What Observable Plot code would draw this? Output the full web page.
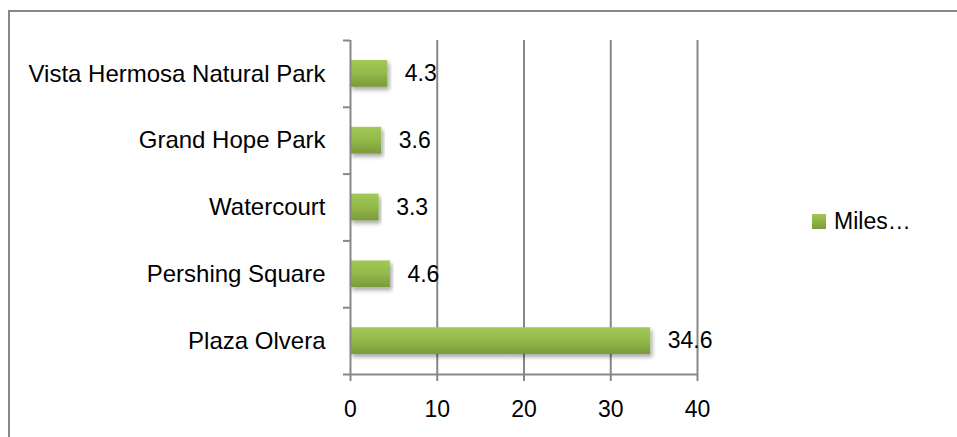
<!DOCTYPE html>
<html><head><meta charset="utf-8">
<script src="https://cdn.jsdelivr.net/npm/d3@7"></script>
<script src="https://cdn.jsdelivr.net/npm/@observablehq/plot@0.6"></script>
<style>
body{margin:0;background:#fff;}
#wrap{position:relative;width:957px;height:437px;overflow:hidden;font-family:"Liberation Sans",Arial,sans-serif;color:#000;}
#frame{position:absolute;left:8px;top:10px;width:1000px;height:500px;border-left:2px solid #878787;border-top:2px solid #878787;pointer-events:none;}
#chart{position:absolute;left:0;top:0;}
#legend{position:absolute;left:812px;top:207px;height:28px;font-size:23px;display:flex;align-items:center;gap:8px;}
#legend .sw{display:inline-block;width:14px;height:15px;background:linear-gradient(#a0c853,#7d9c3b);}
</style></head><body>
<div id="wrap"><div id="chart"></div><div id="frame"></div><div id="legend"><span class="sw"></span><span>Miles…</span></div></div>
<script>
const categories = ["Vista Hermosa Natural Park", "Grand Hope Park", "Watercourt", "Pershing Square", "Plaza Olvera"];
const miles = [4.3, 3.6, 3.3, 4.6, 34.6];
const xTicks = [0, 10, 20, 30, 40];

const rows = categories.map((c, i) => ({category: c, index: i, miles: miles[i]}));
const indices = categories.map((c, i) => i);
const boundaries = d3.range(-0.5, categories.length, 1);
const gray = "#878787";

const svg = Plot.plot({
  width: 957,
  height: 437,
  marginLeft: 350,
  marginRight: 260,
  marginTop: 40,
  marginBottom: 63,
  style: {fontFamily: '"Liberation Sans", Arial, sans-serif', fontSize: "23px", color: "#000", background: "transparent"},
  x: {domain: [0, 40]},
  y: {domain: [-0.5, categories.length - 0.5], reverse: true},
  marks: [
    Plot.ruleX(xTicks.slice(1), {stroke: gray, strokeWidth: 2}),
    Plot.rect(rows, {x1: d => 0, x2: "miles", y1: d => d.index - 0.2, y2: d => d.index + 0.2, fill: "url(#barGrad)", className: "bars"}),
    Plot.text(rows, {x: "miles", y: "index", text: d => d.miles.toFixed(1), dx: 17, textAnchor: "start", fill: "#000", fontSize: 23}),
    Plot.ruleX([0], {stroke: gray, strokeWidth: 2}),
    Plot.ruleY([categories.length - 0.5], {x1: 0, x2: 40, stroke: gray, strokeWidth: 2}),
    Plot.axisX({ticks: xTicks, tickSize: 7, tickPadding: 19, stroke: gray, strokeWidth: 2, strokeOpacity: 1, fontSize: 23, label: null}),
    Plot.axisY({ticks: indices, tickFormat: i => categories[i], tickSize: 0, tickPadding: 25, fontSize: 24, label: null}),
    Plot.axisY({ticks: boundaries, tickFormat: () => "", tickSize: 7, stroke: gray, strokeWidth: 2, strokeOpacity: 1, label: null})
  ]
});

const ns = "http://www.w3.org/2000/svg";
const defs = document.createElementNS(ns, "defs");
defs.innerHTML = `
<linearGradient id="barGrad" x1="0" y1="0" x2="0" y2="1">
  <stop offset="0" stop-color="#a2c955"/>
  <stop offset="0.5" stop-color="#92b94a"/>
  <stop offset="1" stop-color="#7b9a3a"/>
</linearGradient>
<filter id="shadow" x="-5%" y="-30%" width="115%" height="180%">
  <feDropShadow dx="2" dy="3" stdDeviation="2" flood-color="#000" flood-opacity="0.35"/>
</filter>`;
svg.insertBefore(defs, svg.firstChild);
svg.querySelectorAll(".bars rect, g.bars rect").forEach(r => r.setAttribute("filter", "url(#shadow)"));
document.getElementById("chart").appendChild(svg);
</script>
</body></html>
